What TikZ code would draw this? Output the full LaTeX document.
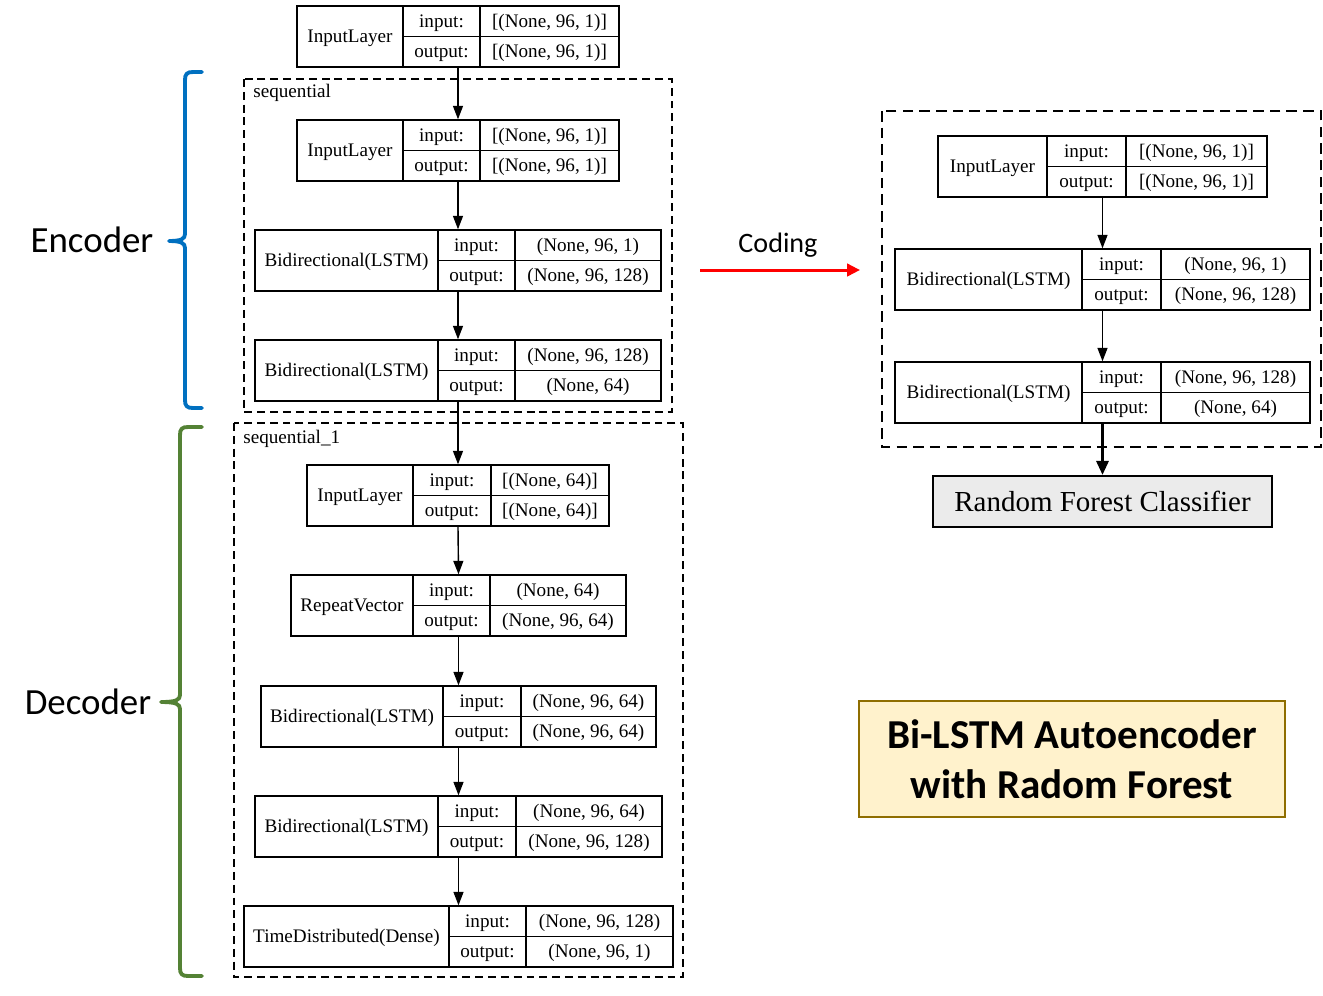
\documentclass[tikz,border=0pt]{standalone}
\usepackage{fontspec}
\setmainfont{Liberation Serif}
\newfontfamily\calibri{Carlito}
\usetikzlibrary{arrows.meta}
\definecolor{encblue}{HTML}{0070C0}
\definecolor{decgreen}{HTML}{548235}
\definecolor{titlefill}{HTML}{FFF2CC}
\definecolor{titledraw}{HTML}{8F6E00}
\definecolor{rfgray}{HTML}{EBEBEB}

\tikzset{
  layer/.style={draw, line width=0.8pt, inner sep=0pt, minimum height=1.22cm},
  cell/.style={font=\fontsize{10.9}{13}\selectfont, inner sep=0pt, text height=0.8em, text depth=0.14em},
  flow/.style={-{Triangle[length=0.27cm, width=0.2cm]}, line width=0.8pt},
  group/.style={dashed, line width=0.7pt, dash pattern=on 4.5pt off 2.8pt},
  brace/.style={line width=2.2pt, line cap=round, line join=round},
}

% #1 name, #2 left, #3 col1, #4 col2, #5 right, #6 top, #7 type, #8 input, #9 output
\newcommand{\layerbox}[9]{%
  \node[layer, minimum width={(#5-#2)*0.02cm}] (#1) at ({(#2+#5)/2},{#6+30.5}) {};
  \draw[line width=0.8pt] (#3,#6) -- (#3,#6+61) (#4,#6) -- (#4,#6+61) (#3,#6+30.5) -- (#5,#6+30.5);
  \node[cell] (#1-name) at ({(#2+#3)/2},{#6+30.5}) {#7};
  \node[cell] (#1-inl) at ({(#3+#4)/2},{#6+15.5}) {input:};
  \node[cell] (#1-outl) at ({(#3+#4)/2},{#6+46}) {output:};
  \node[cell] (#1-in) at ({(#4+#5)/2},{#6+15.5}) {#8};
  \node[cell] (#1-out) at ({(#4+#5)/2},{#6+46}) {#9};
}

\begin{document}
\begin{tikzpicture}[x=0.02cm, y=-0.02cm]
  \useasboundingbox (0,0) rectangle (1323,995);

  % autoencoder, left
  \draw[group] (244,79) rectangle (672,412);
  \node[cell, anchor=west] (seq) at (253,92) {sequential};
  \draw[group] (234,423) rectangle (683,977);
  \node[cell, anchor=west] (seqone) at (243,438) {sequential\_1};

  \layerbox{in0}{297}{403}{480}{619}{6}{InputLayer}{[(None, 96, 1)]}{[(None, 96, 1)]}
  \layerbox{en1}{297}{403}{480}{619}{120}{InputLayer}{[(None, 96, 1)]}{[(None, 96, 1)]}
  \layerbox{en2}{255}{438}{515}{661}{230}{Bidirectional(LSTM)}{(None, 96, 1)}{(None, 96, 128)}
  \layerbox{en3}{255}{438}{515}{661}{340}{Bidirectional(LSTM)}{(None, 96, 128)}{(None, 64)}
  \layerbox{de1}{307}{413}{491}{609}{465}{InputLayer}{[(None, 64)]}{[(None, 64)]}
  \layerbox{de2}{291}{413}{490}{626}{575}{RepeatVector}{(None, 64)}{(None, 96, 64)}
  \layerbox{de3}{261}{443}{521}{656}{686}{Bidirectional(LSTM)}{(None, 96, 64)}{(None, 96, 64)}
  \layerbox{de4}{255}{438}{516}{662}{796}{Bidirectional(LSTM)}{(None, 96, 64)}{(None, 96, 128)}
  \layerbox{de5}{244}{449}{526}{673}{906}{TimeDistributed(Dense)}{(None, 96, 128)}{(None, 96, 1)}

  \foreach \a/\b in {in0/en1, en1/en2, en2/en3, en3/de1, de1/de2, de2/de3, de3/de4, de4/de5}
    \draw[flow] (\a.south) -- (\b.north);

  % braces
  \draw[brace, encblue] (202,72) -- (193,72) .. controls (187,72) and (185,74) .. (185,80)
    -- (185,234) .. controls (185,239) and (181,241) .. (169,241)
    .. controls (181,241) and (185,243) .. (185,248)
    -- (185,400) .. controls (185,406) and (187,408) .. (193,408) -- (202,408);
  \node[font=\calibri\fontsize{21}{25}\selectfont] (enc) at (92,240) {Encoder};

  \draw[brace, decgreen] (202,427) -- (188,427) .. controls (182,427) and (180,429) .. (180,435)
    -- (180,695) .. controls (180,700) and (176,702) .. (161,702)
    .. controls (176,702) and (180,704) .. (180,709)
    -- (180,968) .. controls (180,974) and (182,976) .. (188,976) -- (202,976);
  \node[font=\calibri\fontsize{21}{25}\selectfont] (dec) at (88,702) {Decoder};

  % coding
  \coordinate (codeA) at (700,270);
  \coordinate (codeB) at (860,270);
  \draw[red, line width=1.7pt, -{Triangle[length=0.26cm, width=0.25cm]}] (codeA) -- (codeB);
  \node[font=\calibri\fontsize{16}{19}\selectfont] (code) at (778,245) {Coding};

  % encoder + classifier, right
  \draw[group, line width=1.3pt, dash pattern=on 6pt off 3.5pt] (882,111) rectangle (1321,447);
  \layerbox{co1}{938}{1047}{1126}{1267}{136}{InputLayer}{[(None, 96, 1)]}{[(None, 96, 1)]}
  \layerbox{co2}{895}{1082}{1161}{1310}{249}{Bidirectional(LSTM)}{(None, 96, 1)}{(None, 96, 128)}
  \layerbox{co3}{895}{1082}{1161}{1310}{362}{Bidirectional(LSTM)}{(None, 96, 128)}{(None, 64)}
  \node[draw, fill=rfgray, line width=1.2pt, minimum width=6.78cm, minimum height=1.02cm,
        font=\fontsize{16.5}{20}\selectfont] (rf) at (1102.5,501.5) {Random Forest Classifier};

  \draw[flow] (co1.south) -- (co2.north);
  \draw[flow] (co2.south) -- (co3.north);
  \draw[-{Triangle[length=0.28cm, width=0.24cm]}, line width=1.7pt] (co3.south) -- (rf.north);

  % title
  \node[draw=titledraw, fill=titlefill, line width=1pt, minimum width=8.52cm, minimum height=2.32cm,
        align=center, font=\calibri\bfseries\fontsize{23.4}{28.4}\selectfont] (title) at (1072,759)
        {Bi-LSTM Autoencoder\\with Radom Forest};
\end{tikzpicture}
\end{document}
